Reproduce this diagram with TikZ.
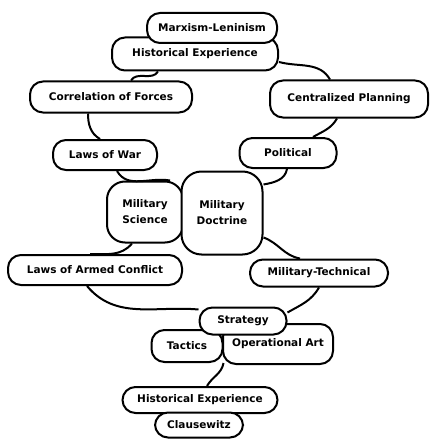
\documentclass[tikz,border=0pt]{standalone}
\usepackage{fontspec}
\setmainfont{DejaVu Sans}
\usetikzlibrary{positioning}

\begin{document}
\begin{tikzpicture}[x=1pt,y=-1pt,
  blob/.style={draw=black,line width=2pt,fill=white,rounded corners=13pt,
    inner sep=0pt,align=center,font=\fontsize{10.5}{16}\selectfont\bfseries},
  link/.style={draw=black,line width=2pt}]
\useasboundingbox (0,0) rectangle (430,441);
% top
\node [blob,minimum width=166pt,minimum height=33pt] (histtop) at (195,54) {Historical Experience};
\node [blob,minimum width=130pt,minimum height=30pt] (marx) at (212,28) {Marxism-Leninism};
\node [blob,minimum width=162pt,minimum height=31pt] (corr) at (111,97) {Correlation of Forces};
\node [blob,minimum width=158pt,minimum height=37pt] (plan) at (349,99) {Centralized Planning};
\node [blob,minimum width=104pt,minimum height=30pt] (war) at (105,155) {Laws of War};
\node [blob,minimum width=97pt,minimum height=30pt] (pol) at (288,153) {Political};
% middle
\node [blob,minimum width=76pt,minimum height=61pt,rounded corners=18pt] (sci) at (145,212) {Military\\Science};
\node [blob,minimum width=81pt,minimum height=83pt,rounded corners=20pt] (doc) at (222,213) {Military\\Doctrine};
\node [blob,minimum width=174pt,minimum height=30pt] (lac) at (95,270) {Laws of Armed Conflict};
\node [blob,minimum width=138pt,minimum height=27pt] (tech) at (319,273) {Military-Technical};
% bottom
\node [blob,minimum width=71pt,minimum height=32pt] (tac) at (187,346) {Tactics};
\node [blob,minimum width=110pt,minimum height=40pt] (opart) at (278,344) {Operational Art};
\node [blob,minimum width=87pt,minimum height=27pt] (strat) at (243,321) {Strategy};
\node [blob,minimum width=155pt,minimum height=26pt] (histbot) at (200,400) {Historical Experience};
\node [blob,minimum width=88pt,minimum height=25pt] (claus) at (199,425) {Clausewitz};
% links
\draw [link] ([xshift=-37pt]histtop.south) to[out=-120,in=60] ([xshift=20pt]corr.north);
\draw [link] ([yshift=-8pt]histtop.east) to[out=-15,in=120] ([xshift=-19pt]plan.north);
\draw [link] ([xshift=-23pt]corr.south) to[out=-90,in=150] ([xshift=-5pt]war.north);
\draw [link] ([xshift=-12pt]plan.south) to[out=-120,in=30] ([xshift=25pt]pol.north);
\draw [link] ([xshift=12pt]war.south) to[out=-60,in=170] ([xshift=25pt]sci.north);
\draw [link] ([xshift=-1pt]pol.south) to[out=-100,in=10] ([yshift=-14pt]doc.north east);
\draw [link] ([xshift=-13pt]sci.south) to[out=-130,in=0] ([xshift=-5pt]lac.north);
\draw [link] ([yshift=18pt]doc.south east) to[out=-20,in=170] ([xshift=-19pt]tech.north);
\draw [link] ([xshift=-8pt]lac.south) to[out=-50,in=175] ([yshift=-3pt]strat.north west);
\draw [link] (tech.south) to[out=-120,in=30] ([yshift=-6pt]strat.north east);
\draw [link] (tac.south east) to[out=-100,in=60] ([xshift=7pt]histbot.north);
\end{tikzpicture}
\end{document}
